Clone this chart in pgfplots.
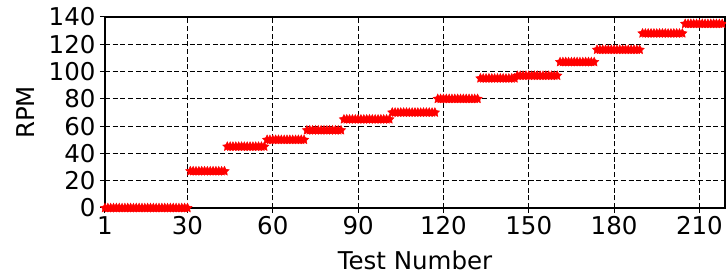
\documentclass[border=0pt]{standalone}
\usepackage{fontspec}
\setmainfont{DejaVu Sans}
\usepackage{pgfplots}
\pgfplotsset{compat=1.18}
\pgfdeclareplotmark{fstar}{%
  \pgfpathmoveto{\pgfqpointpolar{90}{\pgfplotmarksize}}%
  \pgfpathlineto{\pgfqpointpolar{126}{0.5\pgfplotmarksize}}%
  \pgfpathlineto{\pgfqpointpolar{162}{\pgfplotmarksize}}%
  \pgfpathlineto{\pgfqpointpolar{198}{0.5\pgfplotmarksize}}%
  \pgfpathlineto{\pgfqpointpolar{234}{\pgfplotmarksize}}%
  \pgfpathlineto{\pgfqpointpolar{270}{0.5\pgfplotmarksize}}%
  \pgfpathlineto{\pgfqpointpolar{306}{\pgfplotmarksize}}%
  \pgfpathlineto{\pgfqpointpolar{342}{0.5\pgfplotmarksize}}%
  \pgfpathlineto{\pgfqpointpolar{18}{\pgfplotmarksize}}%
  \pgfpathlineto{\pgfqpointpolar{54}{0.5\pgfplotmarksize}}%
  \pgfpathclose
  \pgfusepathqfillstroke
}
\begin{document}
\begin{tikzpicture}
\begin{axis}[
  scale only axis,
  width=620pt, height=191pt,
  xmin=1, xmax=219, ymin=0, ymax=140,
  xtick={1,30,60,90,120,150,180,210},
  ytick={0,20,40,60,80,100,120,140},
  grid=major,
  major grid style={black, line width=1pt, dash pattern=on 5pt off 2.7pt},
  axis line style={black, line width=1.3pt},
  tick align=outside, major tick length=5pt,
  tick style={black, line width=1pt},
  xtick pos=bottom, ytick pos=left,
  font=\fontsize{24.5}{29}\selectfont,
  /pgf/number format/assume math mode=true,
  xlabel={Test Number}, ylabel={RPM},
  xlabel style={yshift=-9pt},
  ylabel style={yshift=7pt},
  yticklabel style={xshift=-1pt},
]
\addplot[only marks, red, mark=fstar, mark size=4.8pt, line width=0.5pt] coordinates {
(1,0)(2,0)(3,0)(4,0)(5,0)(6,0)(7,0)(8,0)(9,0)(10,0)(11,0)(12,0)(13,0)(14,0)(15,0)(16,0)(17,0)(18,0)(19,0)(20,0)(21,0)(22,0)(23,0)(24,0)(25,0)(26,0)(27,0)(28,0)(29,0)(30,0)
(31,27)(32,27)(33,27)(34,27)(35,27)(36,27)(37,27)(38,27)(39,27)(40,27)(41,27)(42,27)(43,27)
(44,45)(45,45)(46,45)(47,45)(48,45)(49,45)(50,45)(51,45)(52,45)(53,45)(54,45)(55,45)(56,45)(57,45)
(58,50)(59,50)(60,50)(61,50)(62,50)(63,50)(64,50)(65,50)(66,50)(67,50)(68,50)(69,50)(70,50)(71,50)
(72,57)(73,57)(74,57)(75,57)(76,57)(77,57)(78,57)(79,57)(80,57)(81,57)(82,57)(83,57)(84,57)
(85,65)(86,65)(87,65)(88,65)(89,65)(90,65)(91,65)(92,65)(93,65)(94,65)(95,65)(96,65)(97,65)(98,65)(99,65)(100,65)(101,65)
(102,70)(103,70)(104,70)(105,70)(106,70)(107,70)(108,70)(109,70)(110,70)(111,70)(112,70)(113,70)(114,70)(115,70)(116,70)(117,70)
(118,80)(119,80)(120,80)(121,80)(122,80)(123,80)(124,80)(125,80)(126,80)(127,80)(128,80)(129,80)(130,80)(131,80)(132,80)
(133,95)(134,95)(135,95)(136,95)(137,95)(138,95)(139,95)(140,95)(141,95)(142,95)(143,95)(144,95)(145,95)
(146,97)(147,97)(148,97)(149,97)(150,97)(151,97)(152,97)(153,97)(154,97)(155,97)(156,97)(157,97)(158,97)(159,97)(160,97)
(161,107)(162,107)(163,107)(164,107)(165,107)(166,107)(167,107)(168,107)(169,107)(170,107)(171,107)(172,107)(173,107)
(174,116)(175,116)(176,116)(177,116)(178,116)(179,116)(180,116)(181,116)(182,116)(183,116)(184,116)(185,116)(186,116)(187,116)(188,116)(189,116)
(190,128)(191,128)(192,128)(193,128)(194,128)(195,128)(196,128)(197,128)(198,128)(199,128)(200,128)(201,128)(202,128)(203,128)(204,128)
(205,135)(206,135)(207,135)(208,135)(209,135)(210,135)(211,135)(212,135)(213,135)(214,135)(215,135)(216,135)(217,135)(218,135)
};
\end{axis}
\pgfresetboundingbox
\path (current axis.south west) ++(-105pt,-70pt) coordinate (bl);
\path (current axis.north east) ++(1pt,17pt) coordinate (tr);
\path[use as bounding box] (bl) rectangle (tr);
\end{tikzpicture}
\end{document}
